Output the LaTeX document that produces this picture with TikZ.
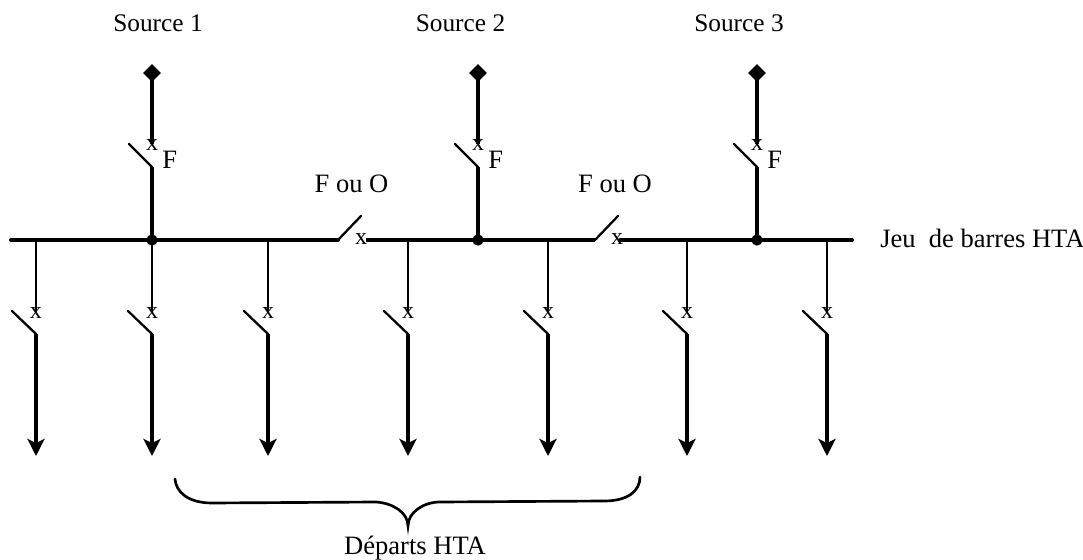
\documentclass[tikz,border=0pt]{standalone}
\usepackage{fontspec}
\setmainfont{Liberation Serif}
\usetikzlibrary{arrows.meta,shapes.geometric}
\tikzset{
  thick line/.style={line width=3pt},
  blade/.style={line width=1.7pt},
  thin line/.style={line width=1.3pt},
  tap/.style={line width=2.9pt,-{Stealth[length=12.75pt,width=12.75pt,inset=3pt]}},
  lab/.style={inner sep=0pt,anchor=base,font=\fontsize{19.9}{22}\selectfont},
  srclab/.style={inner sep=0pt,anchor=base,font=\fontsize{19}{22}\selectfont},
  xmark/.style={inner sep=0pt,font=\fontsize{18}{20}\selectfont},
  dot/.style={circle,fill=black,inner sep=0pt,minimum size=8.5pt},
  term/.style={diamond,fill=black,inner sep=0pt,minimum size=13.5pt},
}
\begin{document}
\begin{tikzpicture}[x=0.75pt,y=-0.75pt]
\useasboundingbox (0,0) rectangle (1083,560);
% busbar
\coordinate (b0) at (11,240);
\coordinate (s1a) at (338,240);
\coordinate (s1b) at (361,216);
\coordinate (b1) at (366,240);
\coordinate (s2a) at (595,240);
\coordinate (s2b) at (618,216);
\coordinate (b2) at (620,240);
\coordinate (b3) at (852,240);
\draw[thick line,line cap=round] (b0) -- (s1a);
\draw[thick line] (b1) -- (s2a);
\draw[thick line,line cap=round] (b2) -- (b3);
\draw[blade,line cap=round] (s1a) -- (s1b);
\draw[blade,line cap=round] (s2a) -- (s2b);
\node[xmark] (x1) at (361,239) {x};
\node[xmark] (x2) at (617,239) {x};
% sources
\foreach \n/\px in {1/152,2/478,3/757}{
  \node[term] (t\n) at (\px,73) {};
  \coordinate (u\n) at (\px,144);
  \coordinate (h\n) at (\px,167);
  \coordinate (k\n) at (\px-23,144);
  \node[dot] (j\n) at (\px,240) {};
  \draw[thick line] (t\n.center) -- (u\n);
  \draw[blade,line cap=round] (k\n) -- (h\n);
  \draw[thick line] (h\n) -- (j\n.center);
  \node[xmark] (xs\n) at (\px,145) {x};
  \node[lab,anchor=base west] (f\n) at (\px+10,169) {F};
}
\node[srclab] (src1) at (158,32) {Source 1};
\node[srclab] (src2) at (460.5,32) {Source 2};
\node[srclab] (src3) at (739,32) {Source 3};
\node[lab] (fo1) at (351.5,193) {F ou O};
\node[lab] (fo2) at (615,193) {F ou O};
\node[lab,anchor=base west] (jeu) at (880,247) {Jeu\ \ de barres HTA};
% feeders
\foreach \n/\px in {1/36,2/152,3/268,4/408,5/548,6/687,7/827}{
  \coordinate (top\n) at (\px,240);
  \coordinate (m\n) at (\px,312);
  \coordinate (k\n) at (\px-24,311);
  \coordinate (h\n) at (\px,334);
  \coordinate (e\n) at (\px,456);
  \draw[thin line] (top\n) -- (m\n);
  \node[xmark] (xf\n) at (\px,313) {x};
  \draw[blade,line cap=round] (k\n) -- (h\n);
  \draw[tap] (h\n) -- (e\n);
}
% brace
\coordinate (bl) at (175,479);
\coordinate (bm) at (408,526);
\coordinate (br) at (640,477);
\draw[line width=2pt,line cap=round] (bl)
  .. controls (176,492) and (188,503) .. (212,503)
  -- (376,502)
  .. controls (392,503) and (408,512) .. (bm)
  .. controls (408,512) and (424,502) .. (440,502)
  -- (604,501)
  .. controls (628,501) and (640,491) .. (br);
\node[lab] (dep) at (415,554) {Départs HTA};
\end{tikzpicture}
\end{document}
